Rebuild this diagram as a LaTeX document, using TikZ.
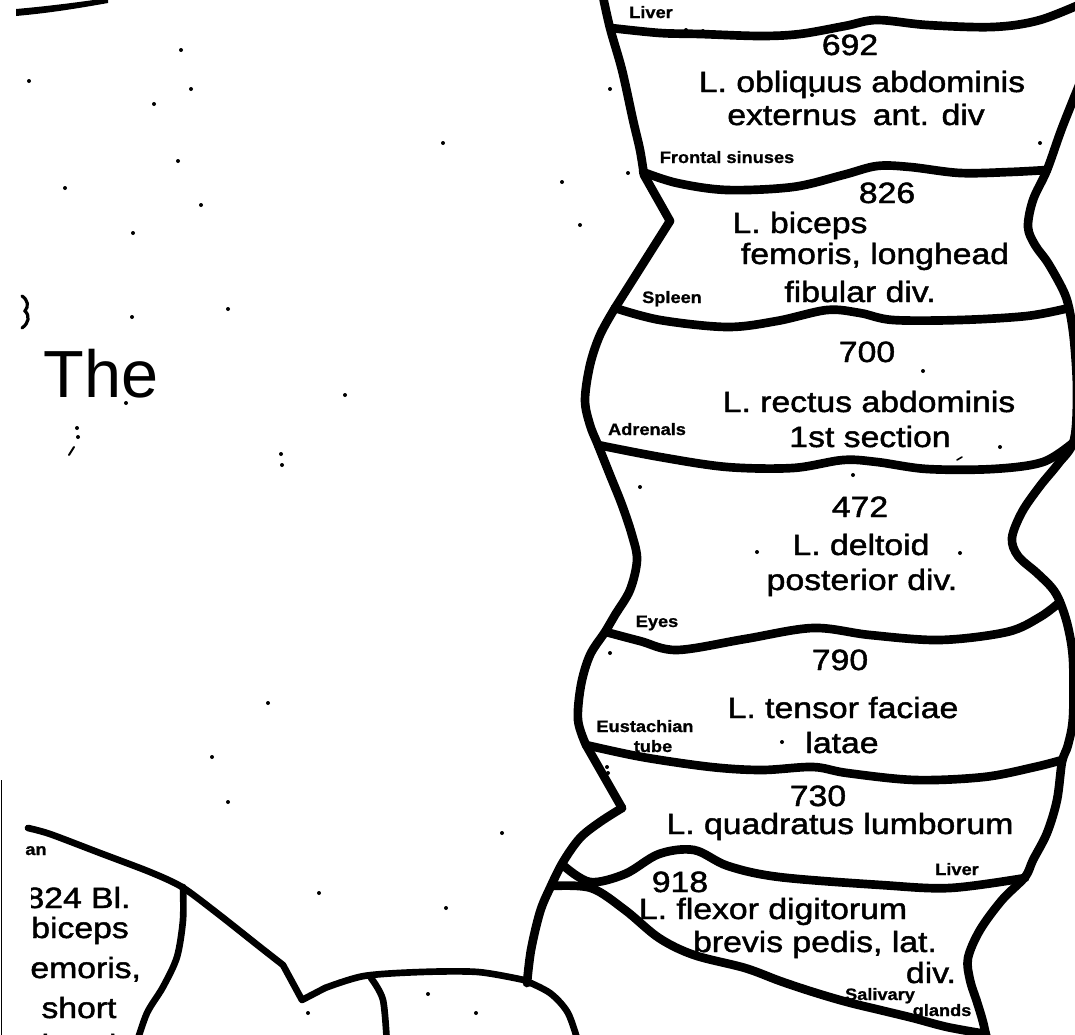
\documentclass[tikz,border=0pt]{standalone}
\usepackage{fontspec}
\setmainfont{Liberation Sans}
\newfontfamily\labfont[FakeStretch=1.15,FakeBold=1.6]{Liberation Sans}
\newfontfamily\orgfont[FakeStretch=1.1,FakeBold=1]{Liberation Sans Bold}
\begin{document}
\begin{tikzpicture}[x=0.75pt,y=-0.75pt,
  edge/.style={line width=6.5pt,line join=round,line cap=round},
  thinedge/.style={line width=5pt,line join=round,line cap=round},
  lab/.style={anchor=base,inner sep=0pt,font=\labfont\fontsize{22}{26}\selectfont},
  org/.style={anchor=base,inner sep=0pt,font=\orgfont\fontsize{12.4}{14}\selectfont},
  speck/.style={fill=black}]
\useasboundingbox (0,0) rectangle (1075,1035);
\clip (0,0) rectangle (1075,1035);

% ---------- column: left edge ----------
\draw[edge] plot[smooth,tension=0.55] coordinates {(602,-8) (610,28) (622,70) (633,120) (640,150) (644,175)} -- (670,221) -- (615,308);
\draw[edge] plot[smooth,tension=0.55] coordinates {(615,308) (600,335) (590,365) (585,400) (590,425) (598,445) (610,475) (622,505) (632,535) (637,560) (630,590) (615,615) (605,632) (590,655) (581,685) (578,720) (586,745)} -- (622,808);
\draw[edge] plot[smooth,tension=0.55] coordinates {(622,808) (600,822) (580,838) (563,862) (550,888) (540,912) (531,950) (527,983)};

% ---------- column: right edge ----------
\draw[edge] plot[smooth,tension=0.55] coordinates {(1082,78) (1062,128) (1047,170) (1033,200) (1028,227) (1035,245) (1048,263) (1063,290) (1069,308) (1074,340) (1077,390) (1074,440) (1058,464) (1040,486) (1022,512) (1012,538) (1018,556) (1037,573) (1052,588) (1060,602) (1068,627) (1073,660) (1073,717) (1068,745) (1062,762) (1057,800) (1047,833) (1033,860) (1025,877) (1002,900) (980,930) (968,958) (970,980) (977,1002) (983,1022) (988,1045)};

% ---------- column: separating lines ----------
\draw[edge] plot[smooth,tension=0.55] coordinates {(611,28) (660,33) (700,34) (760,36) (800,34) (845,26) (877,20) (927,25) (993,27) (1040,20) (1090,0)};
\draw[edge] plot[smooth,tension=0.55] coordinates {(643,172) (677,183) (727,190) (793,187) (843,175) (877,166) (910,167) (960,173) (1010,172) (1047,170)};
\draw[edge] plot[smooth,tension=0.55] coordinates {(615,308) (660,320) (727,327) (777,321) (827,310) (860,313) (893,320) (960,320) (1027,316) (1069,308)};
\draw[edge] plot[smooth,tension=0.55] coordinates {(598,445) (660,457) (727,467) (793,468) (843,460) (877,462) (927,469) (993,469) (1043,462) (1074,442)};
\draw[edge] plot[smooth,tension=0.55] coordinates {(606,632) (640,641) (677,650) (745,639) (813,628) (870,635) (940,640) (1007,632) (1040,617) (1060,602)};
\draw[edge] plot[smooth,tension=0.55] coordinates {(586,745) (642,757) (711,767) (762,770) (813,767) (847,773) (915,780) (984,777) (1035,767) (1062,760)};
\draw[edge] plot[smooth,tension=0.55] coordinates {(564,866) (590,882) (625,874) (659,854) (694,850) (728,866) (779,877) (881,885) (950,888) (1025,878)};
\draw[edge] plot[smooth,tension=0.55] coordinates {(552,886) (591,888) (625,910) (659,938) (694,955) (745,968) (780,981) (813,992) (847,1002) (880,1010) (913,1018) (947,1027) (986,1034)};

% ---------- lower left shapes ----------
\draw[thinedge] plot[smooth,tension=0.45] coordinates {(28,828) (50,834) (100,853) (150,872) (182,887) (217,913) (260,947) (283,965)} -- (302,1000) -- (325,988);
\draw[thinedge] plot[smooth,tension=0.5] coordinates {(325,988) (364,976) (421,972) (478,972) (524,980)};
\draw[thinedge] plot[smooth,tension=0.5] coordinates {(183,887) (183,920) (177,957) (163,987) (147,1013) (136,1045)};
\draw[thinedge] plot[smooth,tension=0.5] coordinates {(371,978) (383,1000) (387,1045)};
\draw[thinedge] plot[smooth,tension=0.5] coordinates {(524,980) (550,993) (568,1013) (579,1045)};
\draw[line width=1.2pt] (1.5,780) -- (1.5,1040);

% top-left stroke and mark
\fill (16,9) .. controls (50,6) and (80,2) .. (108,-2) -- (108,3) .. controls (80,8) and (50,13) .. (16,16) -- cycle;
\draw[line width=2.4pt,line cap=round] (22,296) .. controls (28,300) and (29,306) .. (25,311) .. controls (30,316) and (29,323) .. (22,328);

% ---------- labels in the column ----------
\node[org] (liv1) at (651,18) {Liver};
\node[lab] (n692) at (850,55) {692};
\node[lab] (t692a) at (862,92) {L. obliquus abdominis};
\node[lab] (t692b) at (856,125) {externus\hspace{0.55em}ant. div};
\node[org] (front) at (727,163) {Frontal sinuses};
\node[lab] (n826) at (887,203) {826};
\node[lab] (t826a) at (800,233) {L. biceps};
\node[lab] (t826b) at (875,264) {femoris, longhead};
\node[lab] (t826c) at (860,302) {fibular div.};
\node[org] (spl) at (672,303) {Spleen};
\node[lab] (n700) at (867,362) {700};
\node[lab] (t700a) at (869,412) {L. rectus abdominis};
\node[lab] (t700b) at (870,447) {1st section};
\node[org] (adr) at (647,435) {Adrenals};
\node[lab] (n472) at (860,517) {472};
\node[lab] (t472a) at (861,555) {L. deltoid};
\node[lab] (t472b) at (862,590) {posterior div.};
\node[org] (eyes) at (657,627) {Eyes};
\node[lab] (n790) at (840,670) {790};
\node[lab] (t790a) at (843,718) {L. tensor faciae};
\node[lab] (t790b) at (842,753) {latae};
\node[org] (eus1) at (645,732) {Eustachian};
\node[org] (eus2) at (653,752) {tube};
\node[lab] (n730) at (818,806) {730};
\node[lab] (t730) at (840,834) {L. quadratus lumborum};
\node[org] (liv2) at (957,875) {Liver};
\node[lab] (n918) at (680,892) {918};
\node[lab] (t918a) at (773,919) {L. flexor digitorum};
\node[lab] (t918b) at (815,952) {brevis pedis, lat.};
\node[lab] (t918c) at (931,983) {div.};
\node[org] (sal1) at (880,1000) {Salivary};
\node[org] (sal2) at (942,1016) {glands};

% ---------- left texts ----------
\node[anchor=base,inner sep=0pt,font=\fontsize{50}{56}\selectfont] (the) at (101,397) {The};
\node[org] (an) at (36,855) {an};
\begin{scope}
\clip (31,860) rectangle (300,1040);
\node[lab] (t824a) at (78,908) {824 Bl.};
\node[lab] (t824b) at (80,938) {biceps};
\node[lab] (t824c) at (81,978) {femoris,};
\node[lab] (t824d) at (79,1018) {short};
\node[lab] (t824e) at (79,1055) {head};
\end{scope}

% ---------- specks ----------
\foreach \p in {(181,50),(29,81),(191,89),(154,104),(443,143),(178,161),(65,188),(201,205),(133,233),(132,317),(228,309),(345,395),(126,403),(77,428),(78,437),(281,454),(282,465),(268,703),(212,757),(228,802),(319,893),(446,908),(502,833),(428,994),(476,1013),(308,1013),(610,89),(628,173),(562,182),(580,225),(686,30),(703,31),(1040,143),(923,371),(1000,447),(853,475),(640,487),(757,552),(960,553),(610,653),(782,742),(607,767),(608,773),(812,95)}
  \fill[speck] \p circle (1.5pt);
\draw[line width=1.5pt,line cap=round] (69,455) -- (74,447);
\draw[line width=1.2pt,line cap=round] (957,460) -- (962,457);
\end{tikzpicture}
\end{document}
